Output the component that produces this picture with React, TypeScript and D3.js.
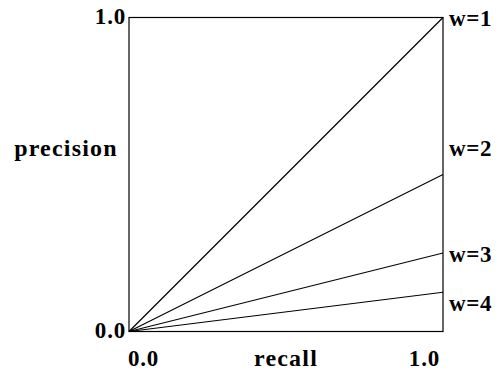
import React from "react";
import * as d3 from "d3";

const weights = ["w=1", "w=2", "w=3", "w=4"];
const endPrecision = [1.0, 0.5, 0.25, 0.125];
const labelPrecision = [1.0, 0.586, 0.248, 0.092];
const xTicks = ["0.0", "1.0"];
const yTicks = ["0.0", "1.0"];

export default function App() {
  const W = 503, H = 370;
  const left = 129, right = 443, top = 17.5, bottom = 331.5;
  const x = d3.scaleLinear().domain([0, 1]).range([left, right]);
  const y = d3.scaleLinear().domain([0, 1]).range([bottom, top]);
  const line = d3.line<[number, number]>().x(d => x(d[0])).y(d => y(d[1]));
  const font = "'Liberation Serif', 'Times New Roman', serif";
  return (
    <svg width={W} height={H} style={{ position: "absolute", left: 0, top: 0 }} fontFamily={font} fontWeight="bold" fontSize={23}>
      <rect x={left} y={top} width={right - left} height={bottom - top} fill="white" stroke="black" strokeWidth={1.2} />
      {endPrecision.map((p, i) => (
        <path key={i} d={line([[0, 0], [1, p]]) || ""} fill="none" stroke="black" strokeWidth={1.2} />
      ))}
      {weights.map((w, i) => (
        <text key={w} x={right + 6} y={y(labelPrecision[i])} dy="0.35em" letterSpacing={0.6}>{w}</text>
      ))}
      <text x={left - 3} y={y(1) + 6} textAnchor="end" letterSpacing={0.8}>{yTicks[1]}</text>
      <text x={left - 3} y={y(0) + 6} textAnchor="end" letterSpacing={0.8}>{yTicks[0]}</text>
      <text x={left - 1} y={366} textAnchor="start" letterSpacing={0.8}>{xTicks[0]}</text>
      <text x={right - 3} y={366} textAnchor="end" letterSpacing={0.8}>{xTicks[1]}</text>
      <text x={66} y={156} textAnchor="middle" fontSize={24} letterSpacing={1.2}>precision</text>
      <text x={286} y={366} textAnchor="middle" fontSize={24} letterSpacing={1.2}>recall</text>
    </svg>
  );
}
